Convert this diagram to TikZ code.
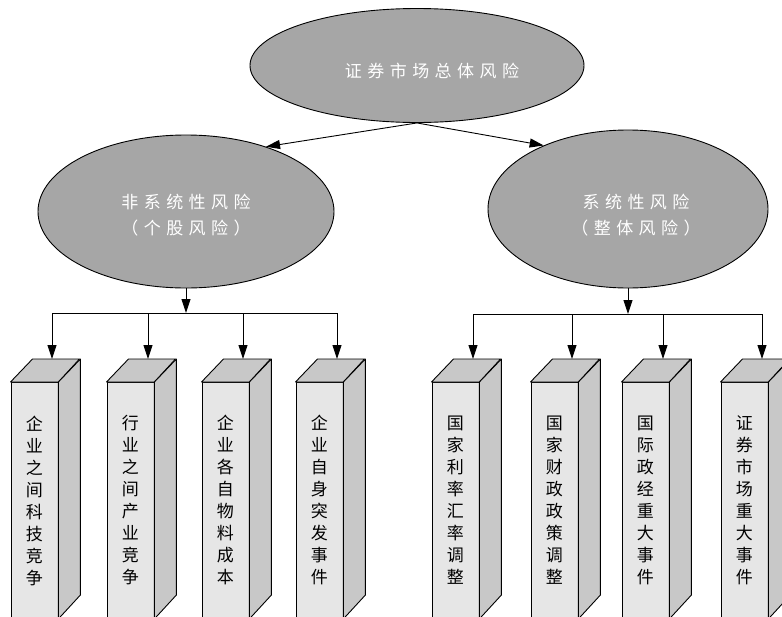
\documentclass[tikz,border=0pt]{standalone}
\usepackage{fontspec}
\newfontfamily\cjk{Noto Sans CJK SC}
\newfontfamily\cjksp[LetterSpace=32]{Noto Sans CJK SC}
\usetikzlibrary{shapes.geometric,arrows.meta,calc}
\definecolor{ellfill}{HTML}{A6A6A6}
\definecolor{frontfill}{HTML}{E6E6E6}
\definecolor{sidefill}{HTML}{C8C8C8}
\begin{document}
\begin{tikzpicture}[x=1pt,y=-1pt,
  ell/.style={ellipse,draw,line width=0.9pt,fill=ellfill,inner sep=0pt},
  elltext/.style={text=white,font=\cjksp\fontsize{17}{26}\selectfont,align=center},
  front/.style={draw,line width=0.9pt,fill=frontfill,minimum width=47pt,minimum height=236pt,inner sep=0pt,anchor=north west,font=\cjk\fontsize{17}{22}\selectfont,align=center},
  face/.style={draw,line width=0.9pt,fill=sidefill,line join=round},
  arr/.style={-{Triangle[length=14pt,width=9pt]},line width=0.9pt},
  ln/.style={line width=0.9pt}]
\useasboundingbox (0,0) rectangle (782,616);
% ellipses
\node[ell,minimum width=334pt,minimum height=114pt] (top) at (417,65.5) {};
\node[elltext] (toptext) at (432,71) {证券市场总体风险};
\node[ell,minimum width=296pt,minimum height=153pt] (left) at (186,211.5) {};
\node[elltext] (lefttext) at (186,215) {非系统性风险\\（个股风险）};
\node[ell,minimum width=280pt,minimum height=158pt] (right) at (628,209) {};
\node[elltext] (righttext) at (636,215) {系统性风险\\（整体风险）};
\draw[arr] (top.south) -- (left.39);
\draw[arr] (top.south) -- (right.143);
% boxes
\foreach \n/\x/\t in {b1/10.5/{企\\业\\之\\间\\科\\技\\竞\\争},
                      b2/106.5/{行\\业\\之\\间\\产\\业\\竞\\争},
                      b3/201.5/{企\\业\\各\\自\\物\\料\\成\\本},
                      b4/295.5/{企\\业\\自\\身\\突\\发\\事\\件},
                      b5/431.5/{国\\家\\利\\率\\汇\\率\\调\\整},
                      b6/530.5/{国\\家\\财\\政\\政\\策\\调\\整},
                      b7/621.5/{国\\际\\政\\经\\重\\大\\事\\件},
                      b8/720.5/{证\\券\\市\\场\\重\\大\\事\\件}}{
  \node[front] (\n) at (\x,382) {\t};
  \draw[face] (\n.north west) -- ++(22,-23) -- ++(47,0) -- (\n.north east) -- cycle;
  \draw[face] (\n.north east) -- ++(22,-23) -- ++(0,236) -- (\n.south east) -- cycle;
  \coordinate (\n t) at ($(\n.north west)+(41.5,-23)$);
}
% left tree
\coordinate (lj) at (186,313);
\draw[arr] (left.south) -- (lj);
\draw[ln] (b1t |- lj) -- (b4t |- lj);
\foreach \n in {b1,b2,b3,b4}{\draw[arr] (\n t |- lj) -- (\n t);}
% right tree
\coordinate (rj) at (628,314);
\draw[arr] (right.south) -- (rj);
\draw[ln] (b5t |- rj) -- (b8t |- rj);
\foreach \n in {b5,b6,b7,b8}{\draw[arr] (\n t |- rj) -- (\n t);}
\end{tikzpicture}
\end{document}
